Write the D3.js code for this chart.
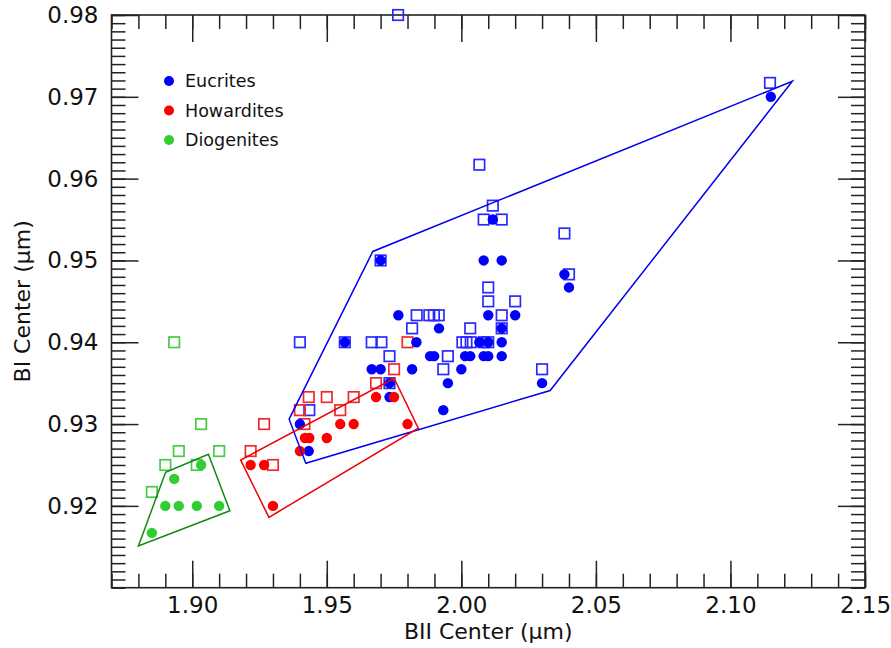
<!DOCTYPE html>
<html>
<head>
<meta charset="utf-8">
<script src="https://cdn.jsdelivr.net/npm/d3@7"></script>
<style>
  html, body { margin: 0; padding: 0; background: #fff; }
  svg { display: block; }
  text { font-family: "DejaVu Sans", sans-serif; }
</style>
</head>
<body>
<svg id="chart" width="891" height="648"></svg>
<script>
// Band centers (BII vs BI) for HED meteorites.
// Filled circles and open squares are two measurement sets per class.
const eucriteCircles = [
  [2.115, 0.970], [2.0383, 0.9483], [2.040, 0.9467], [2.0117, 0.955],
  [2.0083, 0.950], [2.015, 0.950], [1.970, 0.950], [1.9567, 0.940],
  [1.9766, 0.9433], [2.010, 0.9433], [2.020, 0.9433], [1.9917, 0.9417],
  [2.015, 0.9417], [1.9833, 0.940], [2.0067, 0.940], [2.010, 0.940],
  [2.015, 0.940], [1.9884, 0.9383], [1.9899, 0.9383], [2.0014, 0.9383],
  [2.0033, 0.9383], [2.0083, 0.9383], [2.010, 0.9383], [2.015, 0.9383],
  [1.9667, 0.9367], [1.970, 0.9367], [1.9817, 0.9367], [2.000, 0.9367],
  [1.9733, 0.935], [1.995, 0.935], [2.030, 0.935], [1.9733, 0.9333],
  [1.9933, 0.9317], [1.940, 0.930], [1.9433, 0.9267]
];
const eucriteSquares = [
  [1.9765, 0.980], [2.1147, 0.9717], [2.0067, 0.9617], [2.0117, 0.9567],
  [2.0083, 0.955], [2.015, 0.955], [2.0383, 0.9533], [2.040, 0.9483],
  [1.970, 0.950], [2.010, 0.9467], [2.010, 0.945], [2.020, 0.945],
  [1.9834, 0.9433], [1.9881, 0.9433], [1.9898, 0.9433], [1.9916, 0.9433],
  [2.015, 0.9433], [1.9817, 0.9417], [2.0033, 0.9417], [2.015, 0.9417],
  [1.940, 0.940], [1.9567, 0.940], [1.9667, 0.940], [1.9703, 0.940],
  [2.0004, 0.940], [2.0019, 0.940], [2.0035, 0.940], [2.0083, 0.940],
  [2.010, 0.940], [1.9733, 0.9383], [1.995, 0.9383], [1.9933, 0.9367],
  [2.030, 0.9367], [1.9733, 0.935], [1.9435, 0.9317]
];
const howarditeCircles = [
  [1.9683, 0.9333], [1.975, 0.9333], [1.955, 0.930], [1.960, 0.930],
  [1.980, 0.930], [1.9419, 0.9283], [1.9435, 0.9283], [1.950, 0.9283],
  [1.940, 0.9267], [1.9217, 0.925], [1.9267, 0.925], [1.930, 0.920]
];
const howarditeSquares = [
  [1.980, 0.940], [1.975, 0.9367], [1.9683, 0.935], [1.9433, 0.9333],
  [1.950, 0.9333], [1.960, 0.9333], [1.940, 0.9317], [1.955, 0.9317],
  [1.9267, 0.930], [1.9417, 0.930], [1.9217, 0.9267], [1.930, 0.925]
];
const diogeniteCircles = [
  [1.9033, 0.925], [1.8933, 0.9233], [1.890, 0.920], [1.895, 0.920],
  [1.9017, 0.920], [1.910, 0.920], [1.885, 0.9167]
];
const diogeniteSquares = [
  [1.8933, 0.940], [1.9033, 0.930], [1.895, 0.9267], [1.910, 0.9267],
  [1.890, 0.925], [1.9017, 0.925], [1.885, 0.9217]
];

// Outline regions around each class
const eucriteRegion = [
  [1.9422, 0.9252], [1.936, 0.9306], [1.9671, 0.9511], [2.123, 0.9719], [2.033, 0.9341]
];
const howarditeRegion = [
  [1.918, 0.9256], [1.9285, 0.9186], [1.984, 0.9295], [1.975, 0.9356]
];
const diogeniteRegion = [
  [1.880, 0.9151], [1.8901, 0.9241], [1.906, 0.9263], [1.914, 0.9194]
];

const legendLabels = ["Eucrites", "Howardites", "Diogenites"];
const xMajorTicks = [1.90, 1.95, 2.00, 2.05, 2.10, 2.15];
const yMajorTicks = [0.92, 0.93, 0.94, 0.95, 0.96, 0.97, 0.98];
const xTitle = "BII Center (\u03bcm)";
const yTitle = "BI Center (\u03bcm)";

const svg = d3.select("#chart");
const L = 111.5, R = 865, T = 15, B = 587.7;

const x = d3.scaleLinear().domain([1.87, 2.15]).range([L, R]);
const y = d3.scaleLinear().domain([0.91, 0.98]).range([B, T]);

const classes = [
  { name: legendLabels[0], dot: "#0000ff", sq: "#2a2aff", hull: "#0000ee", circles: eucriteCircles, squares: eucriteSquares, region: eucriteRegion },
  { name: legendLabels[1], dot: "#ff0000", sq: "#ee2a2a", hull: "#ee0000", circles: howarditeCircles, squares: howarditeSquares, region: howarditeRegion },
  { name: legendLabels[2], dot: "#32cd32", sq: "#44cc44", hull: "#118811", circles: diogeniteCircles, squares: diogeniteSquares, region: diogeniteRegion }
];

// Axes: ticks point inward on all four sides
const xMinor = x.ticks(28);
const yMinor = y.ticks(70);
const axisStroke = g => g.selectAll("line").attr("stroke", "#222").attr("stroke-width", 1.5);

function drawAxis(axis, transform) {
  const g = svg.append("g").attr("transform", transform).call(axis);
  g.select(".domain").remove();
  axisStroke(g);
  return g;
}
drawAxis(d3.axisBottom(x).tickValues(xMinor).tickSize(-14).tickFormat(""), `translate(0,${B})`);
const xMaj = drawAxis(d3.axisBottom(x).tickValues(xMajorTicks).tickSize(-27).tickPadding(10).tickFormat(d3.format(".2f")), `translate(0,${B})`);
xMaj.selectAll("text").attr("font-size", 23).attr("fill", "#111").attr("dy", "0.75em").attr("y", 8);
drawAxis(d3.axisTop(x).tickValues(xMinor).tickSize(-14).tickFormat(""), `translate(0,${T})`);
drawAxis(d3.axisTop(x).tickValues(xMajorTicks).tickSize(-27).tickFormat(""), `translate(0,${T})`);

drawAxis(d3.axisLeft(y).tickValues(yMinor).tickSize(-14).tickFormat(""), `translate(${L},0)`);
const yMaj = drawAxis(d3.axisLeft(y).tickValues(yMajorTicks).tickSize(-27).tickPadding(13).tickFormat(d3.format(".2f")), `translate(${L},0)`);
yMaj.selectAll("text").attr("font-size", 23).attr("fill", "#111");
drawAxis(d3.axisRight(y).tickValues(yMinor).tickSize(-14).tickFormat(""), `translate(${R},0)`);
drawAxis(d3.axisRight(y).tickValues(yMajorTicks).tickSize(-27).tickFormat(""), `translate(${R},0)`);

svg.append("rect")
  .attr("x", L).attr("y", T).attr("width", R - L).attr("height", B - T)
  .attr("fill", "none").attr("stroke", "#222").attr("stroke-width", 1.6);

// Points: squares first, then circles
const sqSize = 10.5;
classes.forEach(c => {
  svg.append("g").selectAll("rect").data(c.squares).join("rect")
    .attr("x", d => x(d[0]) - sqSize / 2).attr("y", d => y(d[1]) - sqSize / 2)
    .attr("width", sqSize).attr("height", sqSize)
    .attr("fill", "none").attr("stroke", c.sq).attr("stroke-width", 1.7);
});
classes.forEach(c => {
  svg.append("g").selectAll("circle").data(c.circles).join("circle")
    .attr("cx", d => x(d[0])).attr("cy", d => y(d[1])).attr("r", 5.2)
    .attr("fill", c.dot);
});

// Class outlines
const line = d3.line().x(d => x(d[0])).y(d => y(d[1])).curve(d3.curveLinearClosed);
classes.forEach(c => {
  svg.append("path").attr("d", line(c.region))
    .attr("fill", "none").attr("stroke", c.hull).attr("stroke-width", 1.5);
});

// Legend
const leg = svg.append("g");
classes.forEach((c, i) => {
  const yy = 81 + i * 29.5;
  leg.append("circle").attr("cx", 169).attr("cy", yy).attr("r", 5).attr("fill", c.dot);
  leg.append("text").attr("x", 185).attr("y", yy).attr("dy", "0.36em")
    .attr("font-size", 17.5).attr("fill", "#111").text(c.name);
});

// Axis titles
svg.append("text").attr("x", (L + R) / 2).attr("y", 639)
  .attr("text-anchor", "middle").attr("font-size", 22).attr("fill", "#111").text(xTitle);
svg.append("text").attr("transform", `translate(30,${(T + B) / 2}) rotate(-90)`)
  .attr("text-anchor", "middle").attr("font-size", 22).attr("fill", "#111").text(yTitle);
</script>
</body>
</html>
